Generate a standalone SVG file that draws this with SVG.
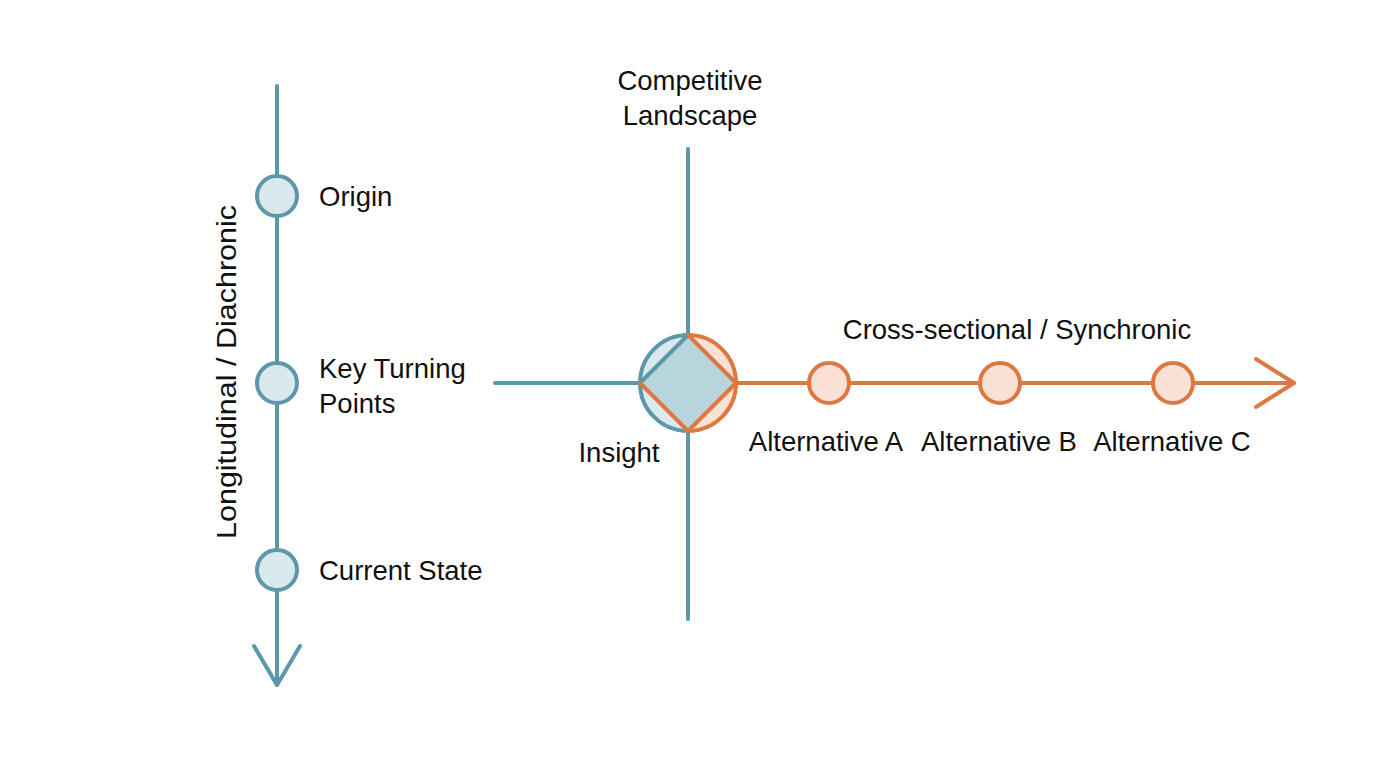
<svg xmlns="http://www.w3.org/2000/svg" width="1376" height="768" viewBox="0 0 1376 768">
<style>
text{font-family:"Liberation Sans",Arial,sans-serif;font-size:27.5px;fill:#111;dominant-baseline:central}
.b{stroke:#5b98a9;stroke-width:4;fill:none;stroke-linecap:round;stroke-linejoin:round}
.o{stroke:#de7843;stroke-width:4;fill:none;stroke-linecap:round;stroke-linejoin:round}
.bn{fill:#dae9ed;stroke:#5b98a9;stroke-width:4}
.on{fill:#f9e1d5;stroke:#de7843;stroke-width:4}
</style>
<rect width="1376" height="768" fill="#fff"/>
<g id="connectors">
<line class="b" x1="277" y1="86" x2="277" y2="685"/>
<polyline class="b" points="254,646 277,685 300,646"/>
<line class="b" x1="688" y1="149" x2="688" y2="619"/>
<line class="b" x1="495" y1="383" x2="640" y2="383"/>
<line class="o" x1="737" y1="383" x2="1294" y2="383"/>
<polyline class="o" points="1256,359 1294,383 1256,407"/>
</g>
<g id="axis-left-label"><text transform="translate(226,372) rotate(-90)" text-anchor="middle" font-size="30" textLength="334" lengthAdjust="spacingAndGlyphs">Longitudinal / Diachronic</text></g>
<g id="origin"><circle class="bn" cx="277" cy="196" r="20"/><text x="319" y="196">Origin</text></g>
<g id="key-turning-points"><circle class="bn" cx="277" cy="383" r="20"/><text x="319" y="368">Key Turning</text><text x="319" y="403">Points</text></g>
<g id="current-state"><circle class="bn" cx="277" cy="570" r="20"/><text x="319" y="570">Current State</text></g>
<g id="competitive-landscape"><text x="690" y="80" text-anchor="middle">Competitive</text><text x="690" y="115" text-anchor="middle">Landscape</text></g>
<g id="insight">
<path d="M688,335 A48,48 0 0 0 688,431 Z" fill="#dae9ed"/>
<path d="M688,335 A48,48 0 0 1 688,431 Z" fill="#f9e1d5"/>
<path class="b" d="M688,335 A48,48 0 0 0 688,431"/>
<path class="o" d="M688,335 A48,48 0 0 1 688,431"/>
<polygon points="688,335 736,383 688,431 640,383" fill="#b9d5dd"/>
<line class="b" x1="640" y1="383" x2="688" y2="335"/>
<polyline class="o" points="688,335 736,383 688,431 640,383"/>
<text x="619" y="452" text-anchor="middle">Insight</text>
</g>
<g id="cross-label"><text x="1017" y="329" text-anchor="middle">Cross-sectional / Synchronic</text></g>
<g id="alt-a"><circle class="on" cx="829" cy="383" r="20"/><text x="826" y="441" text-anchor="middle">Alternative A</text></g>
<g id="alt-b"><circle class="on" cx="1000" cy="383" r="20"/><text x="999" y="441" text-anchor="middle">Alternative B</text></g>
<g id="alt-c"><circle class="on" cx="1173" cy="383" r="20"/><text x="1172" y="441" text-anchor="middle">Alternative C</text></g>
</svg>
